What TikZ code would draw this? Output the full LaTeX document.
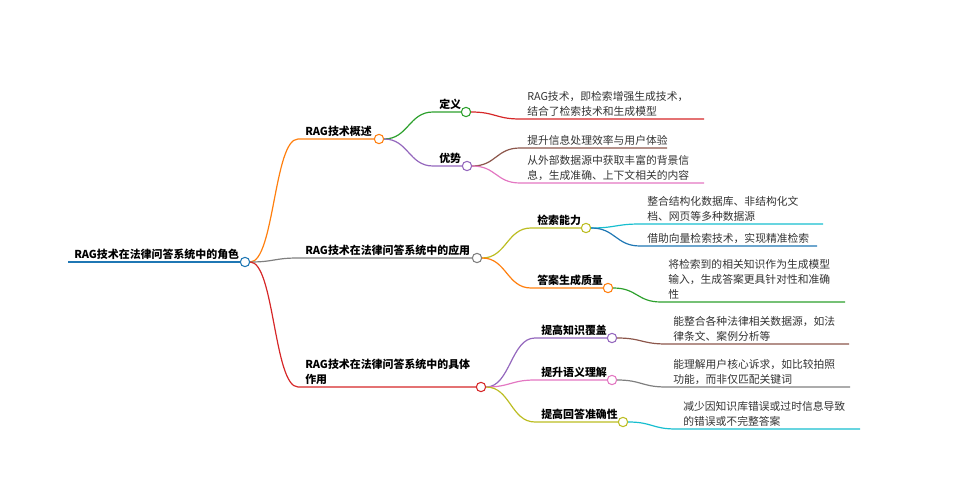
\documentclass[tikz,border=0pt]{standalone}
\usepackage{fontspec}
\setmainfont{Noto Sans CJK SC}
\definecolor{tblue}{HTML}{1F77B4}
\definecolor{torange}{HTML}{FF7F0E}
\definecolor{tgreen}{HTML}{2CA02C}
\definecolor{tred}{HTML}{D62728}
\definecolor{tpurple}{HTML}{9467BD}
\definecolor{tbrown}{HTML}{8C564B}
\definecolor{tpink}{HTML}{E377C2}
\definecolor{tgray}{HTML}{7F7F7F}
\definecolor{tolive}{HTML}{BCBD22}
\definecolor{tcyan}{HTML}{17BECF}

\begin{document}
\begin{tikzpicture}[x=0.75pt,y=-0.75pt,
  dot/.style={circle,draw=#1,fill=white,line width=0.8pt,minimum size=7pt,inner sep=0pt},
  br/.style={draw=#1,line width=0.9pt},
  head/.style={anchor=south west,inner sep=0pt,align=left,font=\bfseries\fontsize{8.2}{11.3}\selectfont},
  leaf/.style={anchor=south west,inner sep=0pt,align=left,text=black!80,font=\fontsize{8.1}{11.3}\selectfont}]
\useasboundingbox (0,0) rectangle (975,503);
% root
\coordinate (r0) at (68,262);
\node[dot=tblue] (root) at (245,262) {};
\draw[br=tblue,line width=1.3pt] (r0) -- (root.west);
\node[head] (troot) at (74,260) {RAG技术在法律问答系统中的角色};
% first level
\coordinate (a1) at (298,139);
\coordinate (a2) at (298,258);
\coordinate (a3) at (298,387);
\node[dot=torange] (n1) at (379,139) {};
\node[dot=tgray] (n2) at (477,258) {};
\node[dot=tred] (n3) at (481,387) {};
\draw[br=torange] (root.east) .. controls +(24,0) and +(-24,0) .. (a1) -- (n1.west);
\draw[br=tgray] (root.east) .. controls +(24,0) and +(-24,0) .. (a2) -- (n2.west);
\draw[br=tred] (root.east) .. controls +(24,0) and +(-24,0) .. (a3) -- (n3.west);
\node[head] (t1) at (305,137) {RAG技术概述};
\node[head] (t2) at (305,256) {RAG技术在法律问答系统中的应用};
\node[head] (t3) at (305,385) {RAG技术在法律问答系统中的具体\\作用};
% second level
\coordinate (d1) at (433,112);
\coordinate (d2) at (433,166);
\node[dot=tgreen] (dy) at (466,112) {};
\node[dot=tpurple] (ys) at (467,166) {};
\draw[br=tgreen] (n1.east) .. controls +(24,0) and +(-24,0) .. (d1) -- (dy.west);
\draw[br=tpurple] (n1.east) .. controls +(24,0) and +(-24,0) .. (d2) -- (ys.west);
\node[head] at (439,110) {定义};
\node[head] at (439,164) {优势};
\coordinate (s1) at (531,228);
\coordinate (s2) at (531,288);
\node[dot=tolive] (js) at (586,228) {};
\node[dot=torange] (da) at (608,288) {};
\draw[br=tolive] (n2.east) .. controls +(24,0) and +(-24,0) .. (s1) -- (js.west);
\draw[br=torange] (n2.east) .. controls +(24,0) and +(-24,0) .. (s2) -- (da.west);
\node[head] at (537,226) {检索能力};
\node[head] at (537,286) {答案生成质量};
\coordinate (e1) at (535,338);
\coordinate (e2) at (535,380);
\coordinate (e3) at (535,422);
\node[dot=tpurple] (fg) at (612,338) {};
\node[dot=tpink] (yy) at (612,380) {};
\node[dot=tolive] (zq) at (623,422) {};
\draw[br=tpurple] (n3.east) .. controls +(24,0) and +(-24,0) .. (e1) -- (fg.west);
\draw[br=tpink] (n3.east) .. controls +(24,0) and +(-24,0) .. (e2) -- (yy.west);
\draw[br=tolive] (n3.east) .. controls +(24,0) and +(-24,0) .. (e3) -- (zq.west);
\node[head] at (541,336) {提高知识覆盖};
\node[head] at (541,378) {提升语义理解};
\node[head] at (541,420) {提高回答准确性};
% leaves
\coordinate (l1) at (520,119); \coordinate (m1) at (704,119);
\coordinate (l2) at (520,148); \coordinate (m2) at (667,148);
\coordinate (l3) at (520,183); \coordinate (m3) at (704,183);
\draw[br=tred] (dy.east) .. controls +(24,0) and +(-24,0) .. (l1) -- (m1);
\draw[br=tbrown] (ys.east) .. controls +(24,0) and +(-24,0) .. (l2) -- (m2);
\draw[br=tpink] (ys.east) .. controls +(24,0) and +(-24,0) .. (l3) -- (m3);
\node[leaf] at (527,117) {RAG技术，即检索增强生成技术，\\结合了检索技术和生成模型};
\node[leaf] at (527,146) {提升信息处理效率与用户体验};
\node[leaf] at (527,181) {从外部数据源中获取丰富的背景信\\息，生成准确、上下文相关的内容};
\coordinate (l4) at (640,224); \coordinate (m4) at (823,224);
\coordinate (l5) at (640,246); \coordinate (m5) at (817,246);
\coordinate (l6) at (661,302); \coordinate (m6) at (845,302);
\draw[br=tcyan] (js.east) .. controls +(24,0) and +(-24,0) .. (l4) -- (m4);
\draw[br=tblue] (js.east) .. controls +(24,0) and +(-24,0) .. (l5) -- (m5);
\draw[br=tgreen] (da.east) .. controls +(24,0) and +(-24,0) .. (l6) -- (m6);
\node[leaf] at (647,222) {整合结构化数据库、非结构化文\\档、网页等多种数据源};
\node[leaf] at (647,244) {借助向量检索技术，实现精准检索};
\node[leaf] at (668,300) {将检索到的相关知识作为生成模型\\输入，生成答案更具针对性和准确\\性};
\coordinate (l7) at (666,344); \coordinate (m7) at (849,344);
\coordinate (l8) at (666,387); \coordinate (m8) at (850,387);
\coordinate (l9) at (676,429); \coordinate (m9) at (860,429);
\draw[br=tbrown] (fg.east) .. controls +(24,0) and +(-24,0) .. (l7) -- (m7);
\draw[br=tgray] (yy.east) .. controls +(24,0) and +(-24,0) .. (l8) -- (m8);
\draw[br=tcyan] (zq.east) .. controls +(24,0) and +(-24,0) .. (l9) -- (m9);
\node[leaf] at (673,342) {能整合各种法律相关数据源，如法\\律条文、案例分析等};
\node[leaf] at (673,385) {能理解用户核心诉求，如比较拍照\\功能，而非仅匹配关键词};
\node[leaf] at (683,427) {减少因知识库错误或过时信息导致\\的错误或不完整答案};
\end{tikzpicture}
\end{document}
